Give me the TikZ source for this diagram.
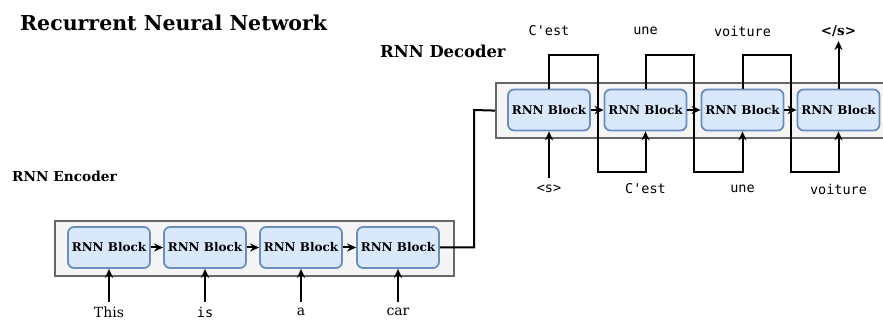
\documentclass[tikz,border=0pt]{standalone}
\usepackage{fontspec}
\setmainfont{DejaVu Serif}
\newfontfamily\monof{DejaVu Sans Mono}
\usetikzlibrary{arrows.meta}
\definecolor{blkfill}{HTML}{DAE8FC}
\definecolor{blkdraw}{HTML}{6C8EBF}
\definecolor{outfill}{HTML}{F5F5F5}
\definecolor{outdraw}{HTML}{666666}
\tikzset{
  blk/.style={draw=blkdraw, fill=blkfill, line width=1.8pt, rounded corners=6pt, minimum width=82pt, minimum height=41pt, inner sep=0pt, font=\bfseries\fontsize{12}{14}\selectfont},
  outer/.style={draw=outdraw, fill=outfill, line width=2.2pt},
  conn/.style={line width=2pt, -{Stealth[length=9pt,width=8pt]}},
  plain/.style={line width=2pt},
  mono/.style={font=\monof\fontsize{13.5}{16}\selectfont, inner sep=0pt},
  serif/.style={font=\fontsize{14}{16}\selectfont, inner sep=0pt},
}
\begin{document}
\begin{tikzpicture}[x=1pt,y=-1pt]
\useasboundingbox (0,0) rectangle (883,320);
% titles
\node[anchor=west, font=\bfseries\fontsize{20.5}{24}\selectfont, inner sep=0pt] (title) at (20,23) {Recurrent Neural Network};
\node[anchor=west, font=\bfseries\fontsize{16.4}{19}\selectfont, inner sep=0pt] (declab) at (380,51) {RNN Decoder};
\node[anchor=west, font=\bfseries\fontsize{13.7}{16}\selectfont, inner sep=0pt] (enclab) at (12,176) {RNN Encoder};
% outer boxes
\node[outer, minimum width=399pt, minimum height=55pt, anchor=north west, inner sep=0pt] (encbox) at (54,220) {};
\node[outer, minimum width=400pt, minimum height=55pt, anchor=north west, inner sep=0pt] (decbox) at (495,82) {};
% encoder blocks
\node[blk] (e1) at (109,247.5) {RNN Block};
\node[blk] (e2) at (205,247.5) {RNN Block};
\node[blk] (e3) at (301,247.5) {RNN Block};
\node[blk] (e4) at (398,247.5) {RNN Block};
\draw[conn] (e1) -- (e2);
\draw[conn] (e2) -- (e3);
\draw[conn] (e3) -- (e4);
% encoder inputs
\node[serif] (i1) at (109,312) {This};
\node[mono] (i2) at (205,312) {is};
\node[serif] (i3) at (301,312) {a};
\node[serif] (i4) at (398,312) {car};
\coordinate (s1) at (109,302);
\coordinate (s2) at (205,302);
\coordinate (s3) at (301,302);
\coordinate (s4) at (398,302);
\draw[conn] (s1) -- (e1.south);
\draw[conn] (s2) -- (e2.south);
\draw[conn] (s3) -- (e3.south);
\draw[conn] (s4) -- (e4.south);
% decoder blocks
\node[blk] (d1) at (549,110) {RNN Block};
\node[blk] (d2) at (645.5,110) {RNN Block};
\node[blk] (d3) at (742.5,110) {RNN Block};
\node[blk] (d4) at (838.5,110) {RNN Block};
\draw[conn] (d1) -- (d2);
\draw[conn] (d2) -- (d3);
\draw[conn] (d3) -- (d4);
% encoder to decoder
\draw[plain] (e4.east) -| (474,110) -- (decbox.west);
% feedback loops
\draw[conn] (d1.north) |- (597.5,55) |- (645.5,172) -- (d2.south);
\draw[conn] (d2.north) |- (693.5,55) |- (742.5,172) -- (d3.south);
\draw[conn] (d3.north) |- (790.5,55) |- (838.5,172) -- (d4.south);
\coordinate (top4) at (838.5,41);
\draw[conn] (d4.north) -- (top4);
\coordinate (sin) at (549,178);
\draw[conn] (sin) -- (d1.south);
% decoder labels
\node[mono] (o1) at (549,31) {C'est};
\node[mono] (o2) at (645.5,31) {une};
\node[mono] (o3) at (742.5,31) {voiture};
\node[font=\bfseries\fontsize{13.5}{16}\selectfont, inner sep=0pt] (o4) at (838.5,31) {</s>};
\node[mono] (b1) at (549,189) {<s>};
\node[mono] (b2) at (645.5,189) {C'est};
\node[mono] (b3) at (742.5,189) {une};
\node[mono] (b4) at (838.5,189) {voiture};
\end{tikzpicture}
\end{document}
